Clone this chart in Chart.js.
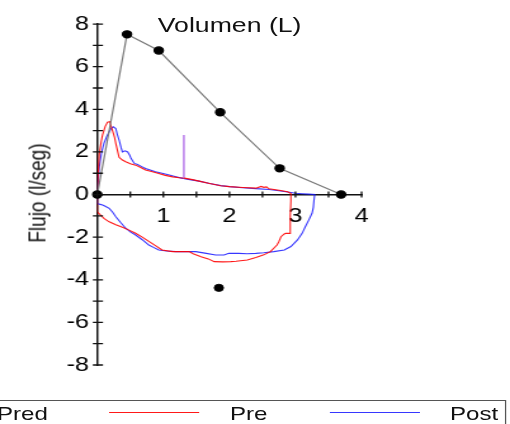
<!DOCTYPE html>
<html>
<head>
<meta charset="utf-8">
<script src="https://cdn.jsdelivr.net/npm/chart.js@4.4.1/dist/chart.umd.min.js"></script>
<style>
  html, body { margin: 0; padding: 0; background: #fff; overflow: hidden; }
  #wrap {
    position: relative; width: 402px; height: 424px;
    transform: scaleX(1.2687); transform-origin: 0 0;
    font-family: "Liberation Sans", Arial, sans-serif; color: #111;
  }
  #chart { position: absolute; left: 0; top: 0; }
  #title { position: absolute; left: 0; width: 362px; top: 13.5px; text-align: center; font-size: 21px; line-height: 21px; }
  #ytitle {
    position: absolute; left: 29px; top: 192.5px; white-space: nowrap;
    font-size: 19px; line-height: 19px;
    transform: translate(-50%, -50%) rotate(-90deg);
  }
  #legendBox { position: absolute; left: -20px; top: 400px; width: 419px; height: 40px; border: 1.5px solid #555; box-sizing: border-box; }
  .lg-line { position: absolute; height: 1.2px; top: 411.7px; width: 71px; }
  .lg-text { position: absolute; top: 404.2px; font-size: 19px; line-height: 19px; white-space: nowrap; }
</style>
</head>
<body>
<div id="wrap">
  <canvas id="chart" width="402" height="424"></canvas>
  <div id="title">Volumen (L)</div>
  <div id="ytitle">Flujo (l/seg)</div>
  <div id="legendBox"></div>
</div>
<script>
// teórico (Pred)
const predX = [0, 0.45, 0.93, 1.86, 2.76, 3.69];
const predY = [0, 7.52, 6.76, 3.86, 1.23, 0];
const predInsX = [1.84];
const predInsY = [-4.38];

// Pre (rojo): espiración y luego inspiración
const preX = [0, 0.01, 0.03, 0.06, 0.08, 0.12, 0.155, 0.19, 0.21, 0.23, 0.26, 0.28, 0.31, 0.33, 0.38, 0.43, 0.5, 0.58, 0.65, 0.73, 0.82, 0.93, 1.03, 1.14, 1.24, 1.305, 1.305, 1.305, 1.34, 1.44, 1.54, 1.7, 1.87, 2.0, 2.2, 2.4, 2.48, 2.52, 2.56, 2.6, 2.75, 2.88, 2.93,
  2.93, 2.92, 2.92, 2.85, 2.83, 2.78, 2.75, 2.72, 2.62, 2.52, 2.4, 2.27, 2.1, 2.02, 1.9, 1.77, 1.68, 1.57, 1.45, 1.39, 1.27, 1.14, 0.98, 0.88, 0.78, 0.68, 0.58, 0.48, 0.38, 0.28, 0.18, 0.1, 0.05, 0.01, 0, 0];
const preY = [0, 0.8, 1.9, 2.5, 2.8, 3.2, 3.4, 3.42, 3.2, 3.0, 2.7, 2.4, 2.0, 1.75, 1.62, 1.54, 1.45, 1.38, 1.28, 1.15, 1.08, 0.99, 0.9, 0.83, 0.79, 0.78, 2.8, 0.77, 0.76, 0.7, 0.63, 0.52, 0.41, 0.37, 0.33, 0.3, 0.38, 0.34, 0.36, 0.27, 0.2, 0.13, 0.05,
  -0.3, -1.0, -1.82, -1.82, -1.85, -1.98, -2.2, -2.37, -2.68, -2.83, -2.95, -3.07, -3.13, -3.15, -3.16, -3.15, -3.02, -2.92, -2.78, -2.68, -2.68, -2.68, -2.6, -2.4, -2.2, -2.0, -1.82, -1.67, -1.54, -1.42, -1.28, -1.12, -0.96, -0.85, -0.8, 0];

// Post (azul)
const postX = [0, 0.01, 0.03, 0.06, 0.1, 0.14, 0.18, 0.21, 0.24, 0.28, 0.3, 0.33, 0.36, 0.38, 0.42, 0.46, 0.49, 0.51, 0.56, 0.6, 0.63, 0.68, 0.73, 0.8, 0.88, 0.98, 1.09, 1.19, 1.29, 1.315, 1.315, 1.315, 1.4, 1.54, 1.7, 1.87, 2.0, 2.2, 2.4, 2.6, 2.75, 2.88, 3.0, 3.1, 3.2, 3.29,
  3.28, 3.27, 3.25, 3.2, 3.15, 3.1, 3.03, 2.93, 2.83, 2.67, 2.52, 2.4, 2.27, 2.14, 1.99, 1.92, 1.79, 1.65, 1.49, 1.35, 1.19, 1.05, 0.93, 0.85, 0.78, 0.68, 0.58, 0.5, 0.43, 0.35, 0.28, 0.23, 0.18, 0.12, 0.08, 0.03, 0, 0];
const postY = [0, 0.6, 1.3, 1.9, 2.4, 2.7, 2.95, 3.1, 3.18, 3.1, 2.85, 2.56, 2.2, 2.0, 2.05, 2.0, 1.85, 1.7, 1.46, 1.42, 1.38, 1.3, 1.22, 1.15, 1.07, 1.0, 0.92, 0.84, 0.76, 0.75, 2.8, 0.74, 0.7, 0.63, 0.52, 0.42, 0.37, 0.32, 0.28, 0.24, 0.18, 0.12, 0.06, 0.04, 0.02, 0,
  -0.26, -0.6, -0.88, -1.2, -1.5, -1.82, -2.13, -2.44, -2.6, -2.68, -2.73, -2.76, -2.78, -2.76, -2.76, -2.84, -2.84, -2.76, -2.68, -2.68, -2.68, -2.65, -2.6, -2.48, -2.37, -2.12, -1.9, -1.75, -1.58, -1.3, -1.04, -0.82, -0.65, -0.55, -0.49, -0.45, -0.42, 0];

const xTickLabels = ['1', '2', '3', '4'];
const yTickLabels = ['-8', '-6', '-4', '-2', '0', '2', '4', '6', '8'];

const pts = (xs, ys) => xs.map((x, i) => ({ x, y: ys[i] }));

// el pico vertical se ve lila
const spikeColor = base => ctx =>
  (ctx.p0.parsed.x === ctx.p1.parsed.x && ctx.p0.parsed.x > 1 && ctx.p0.parsed.x < 1.5) ? 'rgba(185,125,235,0.85)' : base;

// ticks que cruzan los ejes
const crossTicks = {
  id: 'crossTicks',
  afterDraw(chart) {
    const { ctx, scales: { x, y } } = chart;
    const x0 = x.getPixelForValue(0), y0 = y.getPixelForValue(0);
    ctx.save();
    ctx.strokeStyle = '#111';
    ctx.lineWidth = 1.3;
    ctx.beginPath();
    x.ticks.forEach(t => {
      const px = x.getPixelForValue(t.value);
      ctx.moveTo(px, y0 - 3); ctx.lineTo(px, y0 + 3);
    });
    y.ticks.forEach(t => {
      const py = y.getPixelForValue(t.value);
      ctx.moveTo(x0 - 3.5, py); ctx.lineTo(x0 + 4.5, py);
    });
    ctx.stroke();
    ctx.restore();
  }
};

const chart = new Chart(document.getElementById('chart'), {
  type: 'scatter',
  data: {
    datasets: [
      { label: 'Pred', data: pts(predX, predY), showLine: true, borderColor: '#7a7a7a', borderWidth: 1.2,
        pointRadius: 3.6, pointBackgroundColor: '#000', pointBorderColor: '#000', clip: false },
      { label: 'Pre', data: pts(preX, preY), showLine: true, borderColor: 'rgba(255,0,0,0.9)', borderWidth: 1.1, pointRadius: 0,
        segment: { borderColor: spikeColor('rgba(255,0,0,0.9)') } },
      { label: 'Post', data: pts(postX, postY), showLine: true, borderColor: 'rgba(20,20,255,0.85)', borderWidth: 1.1, pointRadius: 0,
        segment: { borderColor: spikeColor('rgba(20,20,255,0.85)') } },
      { label: '', data: pts(predInsX, predInsY), showLine: false, pointRadius: 3.6,
        pointBackgroundColor: '#000', pointBorderColor: '#000', clip: false }
    ]
  },
  options: {
    responsive: false,
    animation: false,
    layout: { padding: { left: 45.9, right: 117, top: 24.1, bottom: 59 } },
    plugins: { legend: { display: false }, tooltip: { enabled: false } },
    scales: {
      x: {
        type: 'linear', min: 0, max: 4, position: { y: 0 },
        grid: { display: false, drawTicks: false },
        border: { display: true, color: '#111', width: 1.5 },
        ticks: {
          stepSize: 0.5, autoSkip: false, maxRotation: 0, padding: 10, color: '#000',
          font: { family: 'Liberation Sans', size: 20 },
          callback: v => xTickLabels.includes(String(v)) ? String(v) : ''
        }
      },
      y: {
        type: 'linear', min: -8, max: 8, position: 'left',
        grid: { display: false, drawTicks: false },
        border: { display: true, color: '#111', width: 1.5 },
        ticks: {
          stepSize: 1, autoSkip: false, padding: 6.5, color: '#000',
          font: { family: 'Liberation Sans', size: 20 },
          callback: v => yTickLabels.includes(String(v)) ? String(v) : ''
        }
      }
    }
  },
  plugins: [crossTicks]
});

// leyenda en HTML, a partir de los datasets
const wrap = document.getElementById('wrap');
const lineLeft = [-87, 86, 260];
const textLeft = [-2.4, 181.3, 354.7];
chart.data.datasets.slice(0, 3).forEach((ds, i) => {
  const ln = document.createElement('div');
  ln.className = 'lg-line';
  ln.style.left = lineLeft[i] + 'px';
  ln.style.background = i === 0 ? '#000' : ds.borderColor;
  wrap.appendChild(ln);
  const tx = document.createElement('div');
  tx.className = 'lg-text';
  tx.style.left = textLeft[i] + 'px';
  tx.textContent = ds.label;
  wrap.appendChild(tx);
});
</script>
</body>
</html>
